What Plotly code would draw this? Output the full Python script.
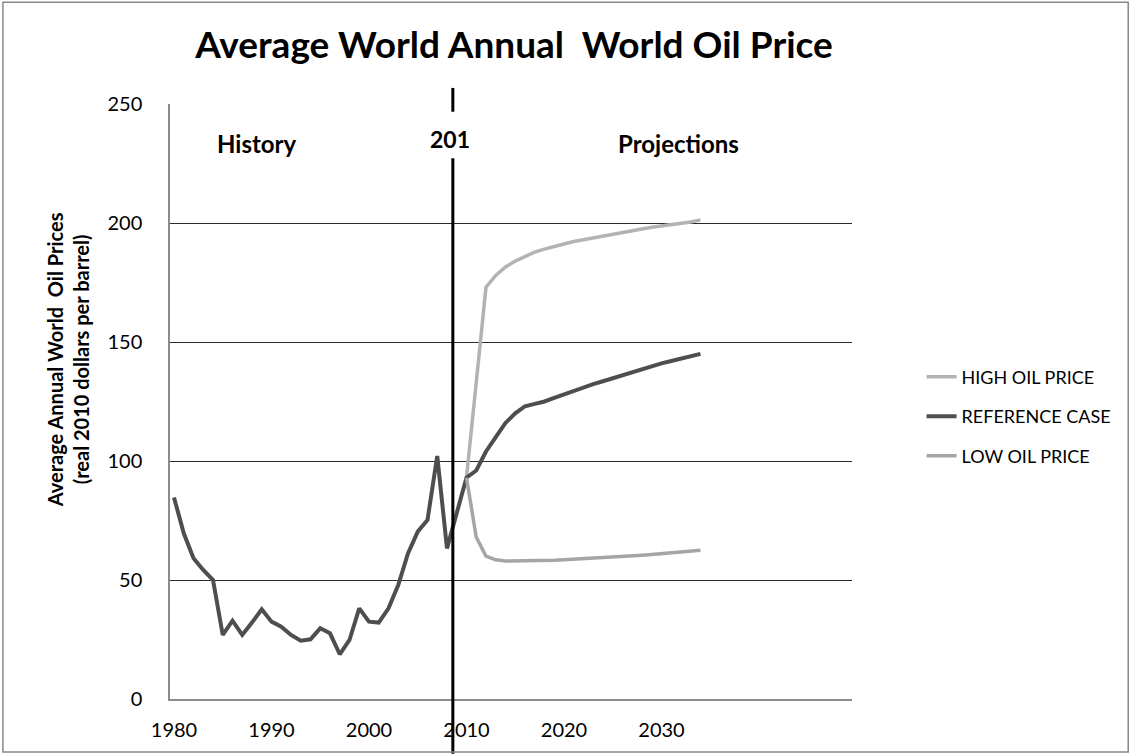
import plotly.graph_objects as go

# history + reference case (one series, 1980-2034)
ref_years = list(range(1980, 2035))
ref_price = [84.7, 69.6, 59.1, 54.2, 50.0, 26.9, 32.9, 26.9, 32.1, 37.7,
             32.5, 30.4, 26.9, 24.5, 25.1, 29.7, 27.6, 18.8, 24.8, 38.1,
             32.5, 32.1, 38.1, 47.9, 61.2, 70.3, 75.2, 102.1, 63.3, 78.0,
             93.0, 96.0, 104.0, 110.0, 116.0, 120.0, 123.0, 124.0, 125.0, 126.5,
             128.0, 129.5, 131.0, 132.3, 133.5, 134.8, 136.0, 137.2, 138.5, 139.8,
             141.0, 142.0, 143.0, 144.0, 145.0]

proj_years = list(range(2010, 2035))
high_price = [93.0, 133.0, 173.0, 178.0, 181.5, 184.0, 186.0, 187.8, 189.0, 190.2,
              191.2, 192.2, 193.0, 193.8, 194.6, 195.4, 196.1, 196.8, 197.5, 198.2,
              198.8, 199.3, 199.7, 200.4, 201.3]
low_price = [93.0, 68.0, 60.0, 58.5, 58.0, 58.0, 58.0, 58.0, 58.2, 58.3,
             58.5, 58.7, 58.9, 59.1, 59.3, 59.5, 59.8, 60.1, 60.4, 60.7,
             61.0, 61.4, 61.8, 62.1, 62.5]

x_ticks = [1980, 1990, 2000, 2010, 2020, 2030]
y_ticks = [0, 50, 100, 150, 200, 250]
divider_year = 2008.6

FONT = "Lato"

fig = go.Figure()
fig.add_trace(go.Scatter(x=proj_years, y=high_price, mode='lines', name='HIGH OIL PRICE',
                         legendgroup='h', line=dict(color='#b3b3b3', width=3.5)))
fig.add_trace(go.Scatter(x=ref_years, y=ref_price, mode='lines', name='REFERENCE CASE',
                         legendgroup='r', line=dict(color='#4e4e4e', width=4)))
fig.add_trace(go.Scatter(x=proj_years, y=low_price, mode='lines', name='LOW OIL PRICE',
                         legendgroup='l', line=dict(color='#a5a5a5', width=3.5)))

# vertical divider (broken around the "201" label)
for y0, y1 in [(0.909, -0.092), (1.027, 0.987)]:
    fig.add_shape(type='line', xref='x', yref='paper', x0=divider_year, x1=divider_year,
                  y0=y0, y1=y1, line=dict(color='black', width=3), layer='above')

# outer frame
fig.add_shape(type='rect', xref='paper', yref='paper', x0=-0.245, x1=1.405, y0=-0.089, y1=1.171,
              line=dict(color='#888888', width=1.5))

fig.add_annotation(x=1988.5, y=233.6, text='<b>History</b>', showarrow=False,
                   font=dict(family=FONT, size=24, color='black'))
fig.add_annotation(x=2008.3, y=235.3, text='<b>201</b>', showarrow=False,
                   font=dict(family=FONT, size=23, color='black'))
fig.add_annotation(x=2031.7, y=233.6, text='<b>Projections</b>', showarrow=False,
                   font=dict(family=FONT, size=24, color='black'))
fig.add_annotation(xref='paper', yref='paper', x=-0.1496, y=0.571, textangle=-90,
                   xanchor='center', yanchor='middle',
                   text='<b>Average Annual World  Oil Prices<br>(real 2010 dollars per barrel)</b>',
                   showarrow=False, font=dict(family=FONT, size=20, color='black'))

fig.update_layout(
    width=1131, height=754,
    margin=dict(l=170, r=279, t=104, b=55),
    paper_bgcolor='white', plot_bgcolor='white',
    font=dict(family=FONT, color='black'),
    title=dict(text='<b>Average World Annual  World Oil Price</b>', x=0.4545, xanchor='center',
               y=0.94, yanchor='middle', font=dict(family=FONT, size=37, color='black')),
    legend=dict(x=1.102, y=0.572, xanchor='left', yanchor='top', tracegroupgap=13,
                font=dict(family=FONT, size=18, color='black'), bgcolor='rgba(0,0,0,0)'),
    showlegend=True,
)
fig.update_xaxes(range=[1979.59, 2049.54], tickvals=x_ticks, ticktext=[str(t) for t in x_ticks],
                 showgrid=False, zeroline=False, showline=True, linecolor='#8c8c8c', linewidth=1.5,
                 ticks='', ticklabelstandoff=12, tickfont=dict(family=FONT, size=20, color='black'))
fig.update_yaxes(range=[0, 250], tickvals=y_ticks, showgrid=True, gridcolor='#2a2a2a', gridwidth=1,
                 zeroline=False, showline=True, linecolor='#8c8c8c', linewidth=1.5,
                 ticks='', ticklabelstandoff=22, tickfont=dict(family=FONT, size=20, color='black'))

# remove the default page margin so the figure sits at the window's corner
fig.write_html("out.html", config={'displayModeBar': False},
               post_script="document.body.style.margin='0';")
